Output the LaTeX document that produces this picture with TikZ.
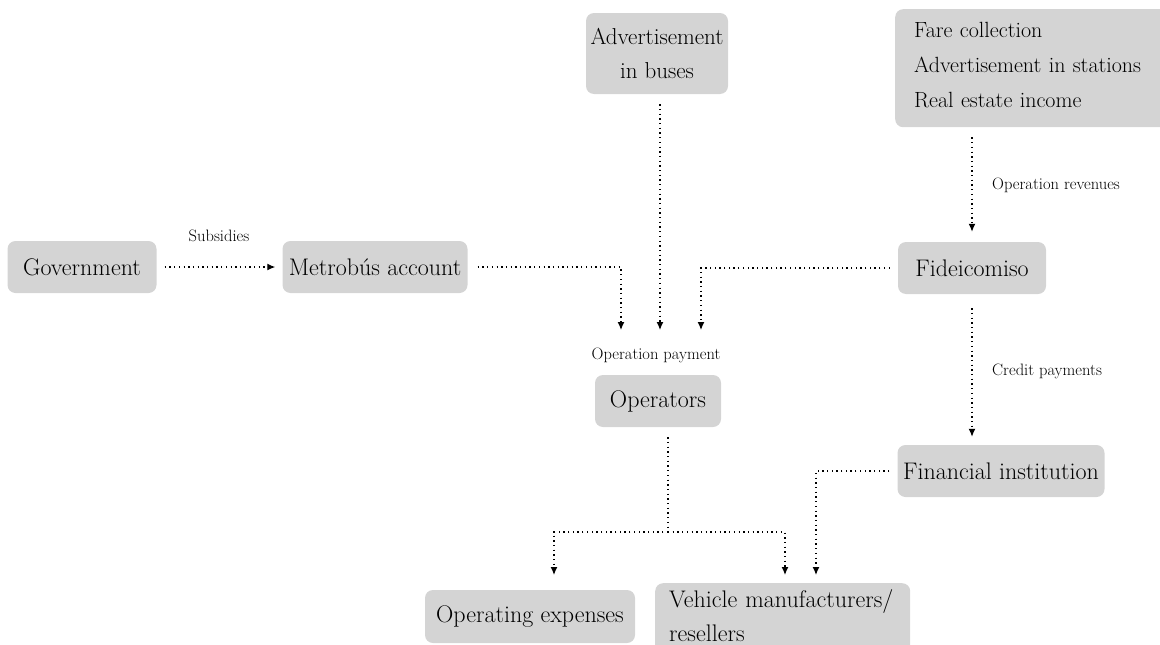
\documentclass[tikz,border=0pt]{standalone}
\usetikzlibrary{arrows.meta}
\definecolor{boxgray}{HTML}{D4D4D4}
\begin{document}
\begin{tikzpicture}[x=1pt,y=-1pt,
  box/.style={fill=boxgray, rounded corners=8pt, inner sep=0pt, font=\fontsize{24}{28}\selectfont},
  dotline/.style={line width=1.3pt, dash pattern=on 1.3pt off 3.4pt},
  flow/.style={dotline, -{Latex[length=8pt,width=7pt]}},
  lbl/.style={inner sep=0pt, font=\fontsize{16.5}{20}\selectfont}]
\useasboundingbox (0,0) rectangle (1160,645);
\clip (0,0) rectangle (1160,645);
% nodes
\node[box, minimum width=149, minimum height=52] (gov) at (82,267) {Government};
\node[box, minimum width=185, minimum height=52] (metro) at (375,267) {Metrob\'us account};
\node[box, minimum width=142, minimum height=81, align=center, font=\fontsize{23}{34}\selectfont] (adv) at (657,53.5) {Advertisement\\in buses};
\node[box, anchor=north west, minimum height=118, inner xsep=19pt, text width=262pt, align=left, font=\fontsize{22}{35}\selectfont] (rev) at (895,9) {Fare collection\\Advertisement in stations\\Real estate income\\[-29pt]\mbox{}};
\node[box, minimum width=148, minimum height=52] (fid) at (972,268) {Fideicomiso};
\node[box, minimum width=126, minimum height=52] (op) at (658,401) {Operators};
\node[box, minimum width=207, minimum height=52] (fin) at (1001,471) {Financial institution};
\node[box, minimum width=210, minimum height=53] (exp) at (530,616.5) {Operating expenses};
\node[box, anchor=north west, inner xsep=14pt, inner ysep=6pt, text width=227pt, align=left, font=\fontsize{24}{34}\selectfont] (veh) at (655,583) {Vehicle manufacturers/\\resellers\strut};
% labels
\node[lbl] (lsub) at (219,236) {Subsidies};
\node[lbl, anchor=west] (lrev) at (992,185) {Operation revenues};
\node[lbl] (lpay) at (656,355) {Operation payment};
\node[lbl, anchor=west] (lcred) at (992,371) {Credit payments};
% coordinates
\coordinate (p1) at (621,330);
\coordinate (p2) at (660,330);
\coordinate (p3) at (701,330);
\coordinate (j) at (668,532);
\coordinate (a1) at (554,575);
\coordinate (a2) at (785,575);
\coordinate (a3) at (816,575);
% connectors
\draw[flow, shorten <=8pt, shorten >=7pt] (gov) -- (metro);
\draw[flow, shorten <=10pt] (metro.east) -| (p1);
\draw[flow, shorten <=10pt] (p2 |- adv.south) -- (p2);
\draw[flow, shorten <=8pt] (fid.west) -| (p3);
\draw[flow, shorten <=10pt, shorten >=10pt] (fid.north |- rev.south) -- (fid.north);
\draw[flow, shorten <=14pt, shorten >=8pt] (fid.south) -- (fid.south |- fin.north);
\draw[dotline, shorten <=10pt] (j |- op.south) -- (j);
\draw[flow] (j) -| (a1);
\draw[flow] (j) -| (a2);
\draw[flow, shorten <=8pt] (fin.west) -| (a3);
\end{tikzpicture}
\end{document}
